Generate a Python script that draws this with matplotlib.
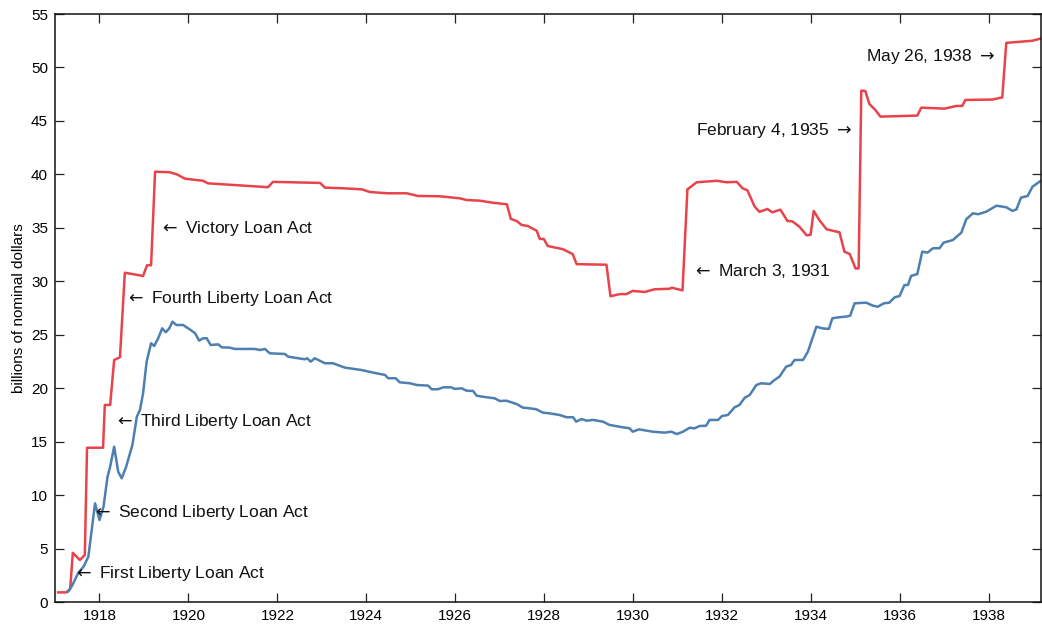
import matplotlib
matplotlib.use("Agg")
import matplotlib.pyplot as plt

plt.rcParams['font.family'] = ['Liberation Sans', 'DejaVu Sans']
plt.rcParams['mathtext.fontset'] = 'dejavusans'

# Statutory debt limit (billions of nominal dollars)
limit_years = [1917.07, 1917.25, 1917.34, 1917.40, 1917.56, 1917.67, 1917.72, 1918.08, 1918.12,
               1918.24, 1918.33, 1918.46, 1918.57, 1918.98, 1919.07, 1919.16, 1919.25, 1919.58,
               1919.74, 1919.92, 1920.33, 1920.44, 1921.79, 1921.90, 1922.96, 1923.07, 1923.47,
               1923.90, 1924.08, 1924.48, 1924.91, 1925.16, 1925.65, 1926.10, 1926.26, 1926.55,
               1926.84, 1927.16, 1927.25, 1927.38, 1927.49, 1927.63, 1927.83, 1927.90, 1927.99,
               1928.08, 1928.42, 1928.64, 1928.73, 1929.40, 1929.49, 1929.70, 1929.85, 1929.99,
               1930.26, 1930.48, 1930.82, 1930.87, 1931.11, 1931.22, 1931.43, 1931.88, 1932.10,
               1932.33, 1932.46, 1932.57, 1932.73, 1932.84, 1933.02, 1933.13, 1933.31, 1933.47,
               1933.58, 1933.74, 1933.90, 1933.99, 1934.06, 1934.19, 1934.35, 1934.64, 1934.75,
               1934.87, 1935.00, 1935.07, 1935.13, 1935.22, 1935.31, 1935.45, 1935.56, 1936.39,
               1936.48, 1937.00, 1937.27, 1937.40, 1937.47, 1938.08, 1938.30, 1938.39, 1938.69,
               1938.98, 1939.16]
limit_values = [0.9, 0.9, 1.19, 4.6, 3.93, 4.4, 14.43, 14.43, 18.43,
                18.43, 22.64, 22.89, 30.8, 30.5, 31.5, 31.5, 40.25, 40.2,
                40.0, 39.6, 39.4, 39.16, 38.8, 39.3, 39.2, 38.76, 38.7,
                38.6, 38.35, 38.23, 38.23, 37.98, 37.95, 37.76, 37.6, 37.54,
                37.35, 37.2, 35.83, 35.64, 35.27, 35.17, 34.73, 33.96, 33.96,
                33.3, 33.0, 32.55, 31.6, 31.55, 28.6, 28.8, 28.8, 29.1,
                29.0, 29.25, 29.3, 29.4, 29.15, 38.6, 39.26, 39.4, 39.26,
                39.3, 38.7, 38.5, 37.0, 36.5, 36.76, 36.45, 36.7, 35.64,
                35.6, 35.1, 34.3, 34.35, 36.58, 35.7, 34.86, 34.58, 32.77,
                32.55, 31.2, 31.2, 47.83, 47.8, 46.6, 46.0, 45.4, 45.5,
                46.24, 46.15, 46.4, 46.4, 46.96, 47.0, 47.2, 52.3, 52.4,
                52.5, 52.7]

# Outstanding federal debt (billions of nominal dollars)
debt_years = [1917.29, 1917.38, 1917.52, 1917.64, 1917.75, 1917.90, 1918.00, 1918.09, 1918.18,
              1918.24, 1918.33, 1918.42, 1918.50, 1918.60, 1918.74, 1918.84, 1918.91, 1918.98,
              1919.06, 1919.16, 1919.23, 1919.32, 1919.41, 1919.49, 1919.57, 1919.64, 1919.73,
              1919.88, 1920.03, 1920.15, 1920.24, 1920.33, 1920.41, 1920.50, 1920.67, 1920.75,
              1920.93, 1921.04, 1921.49, 1921.61, 1921.72, 1921.83, 1922.17, 1922.24, 1922.47,
              1922.62, 1922.67, 1922.75, 1922.84, 1923.07, 1923.25, 1923.52, 1923.89, 1924.23,
              1924.42, 1924.49, 1924.66, 1924.75, 1924.98, 1925.13, 1925.39, 1925.47, 1925.61,
              1925.73, 1925.91, 1925.99, 1926.14, 1926.25, 1926.40, 1926.48, 1926.62, 1926.89,
              1927.00, 1927.15, 1927.38, 1927.52, 1927.67, 1927.82, 1927.97, 1928.12, 1928.35,
              1928.50, 1928.65, 1928.72, 1928.84, 1928.95, 1929.10, 1929.32, 1929.47, 1929.77,
              1929.92, 1929.99, 1930.13, 1930.44, 1930.71, 1930.86, 1930.98, 1931.12, 1931.27,
              1931.38, 1931.49, 1931.64, 1931.72, 1931.91, 1932.00, 1932.13, 1932.28, 1932.39,
              1932.51, 1932.62, 1932.77, 1932.88, 1933.07, 1933.18, 1933.29, 1933.44, 1933.55,
              1933.63, 1933.82, 1933.93, 1934.12, 1934.25, 1934.40, 1934.48, 1934.62, 1934.78,
              1934.88, 1934.98, 1935.24, 1935.39, 1935.50, 1935.64, 1935.76, 1935.88, 1935.99,
              1936.10, 1936.18, 1936.25, 1936.39, 1936.50, 1936.62, 1936.74, 1936.89, 1936.98,
              1937.19, 1937.38, 1937.49, 1937.64, 1937.76, 1937.94, 1938.17, 1938.39, 1938.53,
              1938.62, 1938.72, 1938.87, 1938.98, 1939.17]
debt_values = [0.97, 1.5, 2.7, 3.3, 4.24, 9.23, 7.67, 8.9, 11.7,
               12.66, 14.53, 12.19, 11.57, 12.66, 14.69, 17.34, 17.96, 19.52,
               22.48, 24.2, 23.95, 24.67, 25.6, 25.23, 25.6, 26.22, 25.91,
               25.91, 25.5, 25.14, 24.45, 24.67, 24.67, 24.04, 24.1, 23.82,
               23.79, 23.67, 23.67, 23.57, 23.67, 23.26, 23.2, 22.95, 22.8,
               22.7, 22.8, 22.48, 22.8, 22.33, 22.33, 21.92, 21.7, 21.39,
               21.24, 20.93, 20.93, 20.55, 20.46, 20.3, 20.24, 19.9, 19.9,
               20.08, 20.08, 19.93, 19.99, 19.77, 19.74, 19.3, 19.2, 19.05,
               18.8, 18.83, 18.52, 18.18, 18.12, 18.03, 17.71, 17.65, 17.49,
               17.28, 17.28, 16.87, 17.12, 16.96, 17.03, 16.87, 16.56, 16.34,
               16.25, 15.93, 16.15, 15.93, 15.84, 15.93, 15.71, 15.93, 16.3,
               16.24, 16.46, 16.49, 17.03, 17.03, 17.4, 17.49, 18.21, 18.43,
               19.11, 19.36, 20.3, 20.46, 20.39, 20.77, 21.08, 22.01, 22.17,
               22.64, 22.64, 23.42, 25.75, 25.6, 25.54, 26.54, 26.63, 26.69,
               26.78, 27.94, 28.0, 27.72, 27.62, 27.94, 28.0, 28.5, 28.62,
               29.65, 29.65, 30.5, 30.68, 32.77, 32.68, 33.09, 33.09, 33.61,
               33.86, 34.55, 35.8, 36.36, 36.27, 36.51, 37.07, 36.92, 36.58,
               36.73, 37.82, 37.98, 38.85, 39.41]

# Annotations: (text, x, y, horizontal alignment)
ann_texts = [r"$\leftarrow$ First Liberty Loan Act", r"$\leftarrow$ Second Liberty Loan Act",
             r"$\leftarrow$ Third Liberty Loan Act", r"$\leftarrow$ Fourth Liberty Loan Act",
             r"$\leftarrow$ Victory Loan Act", r"$\leftarrow$ March 3, 1931",
             r"February 4, 1935 $\rightarrow$", r"May 26, 1938 $\rightarrow$"]
ann_x = [1917.40, 1917.83, 1918.33, 1918.58, 1919.33, 1931.33, 1934.93, 1938.14]
ann_y = [2.68, 8.39, 16.87, 28.4, 34.9, 31.0, 44.06, 51.0]
ann_ha = ["left", "left", "left", "left", "left", "left", "right", "right"]

x_ticks = list(range(1918, 1939, 2))
y_ticks = list(range(0, 56, 5))

fig = plt.figure(figsize=(10.42, 6.28), dpi=100)
ax = fig.add_axes([0.0528, 0.0414, 0.9462, 0.9363])

ax.plot(limit_years, limit_values, color="#e8434a", lw=1.8, solid_joinstyle="round")
ax.plot(debt_years, debt_values, color="#4d7fb0", lw=1.8, solid_joinstyle="round")

for t, x, y, ha in zip(ann_texts, ann_x, ann_y, ann_ha):
    ax.text(x, y, t, ha=ha, va="center", fontsize=12.5, color="#111111")

ax.set_xlim(1917.0, 1939.17)
ax.set_ylim(0, 55)
ax.set_xticks(x_ticks)
ax.set_yticks(y_ticks)
ax.tick_params(direction="in", top=True, right=True, length=6.5, width=0.9,
               labelsize=11, pad=5, color="#222222")
for s in ax.spines.values():
    s.set_linewidth(1.1)
    s.set_color("#111111")
ax.set_ylabel("billions of nominal dollars", fontsize=11, labelpad=4)

fig.savefig("out.png", dpi=100)
